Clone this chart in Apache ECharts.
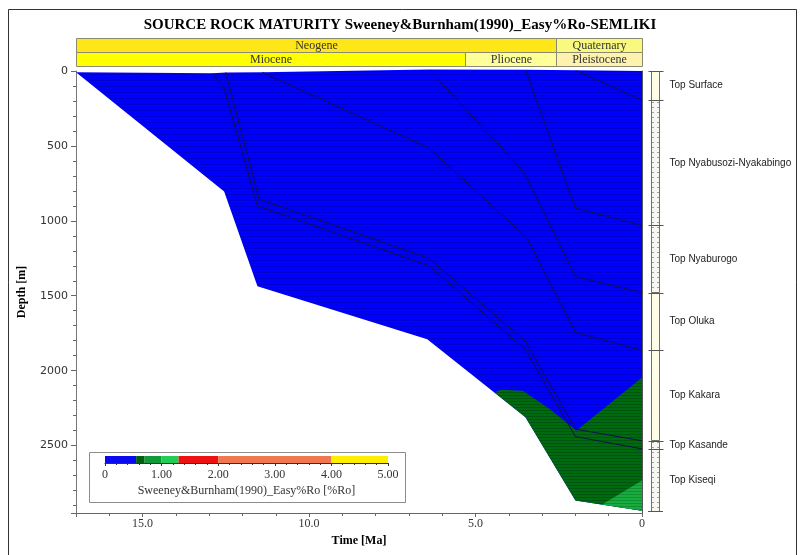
<!DOCTYPE html>
<html><head><meta charset="utf-8">
<script src="https://cdn.jsdelivr.net/npm/echarts@6/dist/echarts.min.js"></script>
<style>html,body{margin:0;padding:0;background:#fff}#c{width:800px;height:555px}</style>
</head><body><div id="c"></div>
<script>
// ---------- DATA ----------
const chartTitle = 'SOURCE ROCK MATURITY Sweeney&Burnham(1990)_Easy%Ro-SEMLIKI';
const timeRange = [0, 17];          // Ma
const depthRange = [0, 2950];       // m
// burial history: [time Ma, depth m]
const surfacePath   = [[17,9],[12.9,15],[12.5,10],[11.4,9],[6.4,-10],[3.5,-8],[2.0,-5],[0,0]];
const basePath      = [[17,9],[12.55,805],[11.55,1436],[6.45,1790],[3.5,2311],[2.0,2866],[0,2935]];
const topKiseqi     = [[12.9,15],[12.55,115],[11.55,900],[6.4,1300],[3.5,1860],[2.0,2440],[0,2522]];
const topKasande    = [[12.5,10],[11.5,855],[6.4,1250],[3.5,1805],[2.0,2390],[0,2468]];
const topKakara     = [[11.4,9],[6.4,514],[3.46,1112],[2.0,1744],[0,1865]];
const topOluka      = [[6.4,-10],[3.55,673],[2.0,1372],[0,1479]];
const topNyaburogo  = [[3.5,-8],[2.0,915],[0,1030]];
const topNyabusozi  = [[2.0,-5],[0,195]];
// maturity zones (Easy%Ro)
const zoneRo055_07 = [[4.43,2145],[4.23,2128],[3.58,2134],[2.77,2256],[1.97,2400],[0,2045],[0,2935],[2.0,2866],[3.5,2311]];
const zoneRo07_10  = [[1.2,2893],[0,2733],[0,2935]];
// chronostratigraphy
const periodNames = ['Neogene','Quaternary'];
const periodAges  = [[17,2.58],[2.58,0]];
const epochNames  = ['Miocene','Pliocene','Pleistocene'];
const epochAges   = [[17,5.33],[5.33,2.58],[2.58,0]];
// present-day formation column
const formationNames = ['Top Surface','Top Nyabusozi-Nyakabingo','Top Nyaburogo','Top Oluka','Top Kakara','Top Kasande','Top Kiseqi'];
const formationTops  = [0,195,1030,1479,1865,2468,2522];
const sectionBase    = 2935;
// legend scale
const roBreaks = [0,0.55,0.7,1.0,1.3,2.0,4.0,5.0];
const roLegendTitle = 'Sweeney&Burnham(1990)_Easy%Ro [%Ro]';

// ---------- STYLES ----------
const periodColors = ['#FFE619','#F9F97F'];
const epochColors  = ['#FFFF00','#FFFF99','#FFF2AE'];
const roColors = ['#0A0AF0','#006010','#119A3A','#22CC55','#EE1111','#F07850','#FFEE00'];
const formationShale = [false,true,true,false,false,true,true];

function hatch(base, line, w, h) {
  const c = document.createElement('canvas'); c.width = w || 4; c.height = h || 3;
  const g = c.getContext('2d'); g.fillStyle = base; g.fillRect(0,0,c.width,c.height);
  g.fillStyle = line; g.fillRect(0,c.height-1,c.width,1);
  return {image: c, repeat: 'repeat'};
}
function dashPattern() {
  const c = document.createElement('canvas'); c.width = 8; c.height = 5;
  const g = c.getContext('2d'); g.fillStyle = '#F6F6F2'; g.fillRect(0,0,8,5);
  g.fillStyle = '#A0A0A0'; g.fillRect(1,2,5,1);
  return {image: c, repeat: 'repeat'};
}
const blueFill  = hatch('#0000FF', '#0000D0');
const dgFill    = hatch('#006A10', '#005410');
const gFill     = hatch('#18AC40', '#109030');
const sandFill  = '#FFFDE6';
const shaleFill = dashPattern();

const serif = '"Liberation Serif","DejaVu Serif",serif';
const sans  = '"Liberation Sans",Arial,sans-serif';

function polygonSeries(points, fill, z) {
  return {
    type: 'custom', coordinateSystem: 'cartesian2d', xAxisIndex: 0, yAxisIndex: 0,
    data: points, silent: true, z: z, clip: false,
    renderItem: function (params, api) {
      if (params.dataIndex !== 0) return null;
      return { type: 'polygon', shape: { points: points.map(p => api.coord(p)) },
               style: { fill: fill, stroke: null } };
    }
  };
}

const blueZone = surfacePath.concat(basePath.slice().reverse());
const horizonPaths = [topKiseqi, topKasande, topKakara, topOluka, topNyaburogo, topNyabusozi];

const series = [];
series.push(polygonSeries(blueZone, blueFill, 2));
series.push(polygonSeries(zoneRo055_07, dgFill, 3));
series.push(polygonSeries(zoneRo07_10, gFill, 4));
horizonPaths.forEach(p => series.push({
  type: 'line', xAxisIndex: 0, yAxisIndex: 0, data: p, symbol: 'none', silent: true, z: 5,
  lineStyle: { color: '#10104A', width: 1 }, animation: false
}));

// chronostrat header
const headerData = [];
periodAges.forEach((a, i) => headerData.push([a[0], a[1], 0, i, 'p']));
epochAges.forEach((a, i) => headerData.push([a[0], a[1], 1, i, 'e']));
series.push({
  type: 'custom', coordinateSystem: 'cartesian2d', xAxisIndex: 1, yAxisIndex: 1, silent: true,
  data: headerData,
  renderItem: function (params, api) {
    const d = headerData[params.dataIndex];
    const p1 = api.coord([d[0], d[2]]), p2 = api.coord([d[1], d[2] + 1]);
    const isP = d[4] === 'p';
    return {
      type: 'rect',
      shape: { x: Math.round(p1[0]) + 0.5, y: Math.round(p1[1]) + 0.5, width: Math.round(p2[0] - p1[0]), height: Math.round(p2[1] - p1[1]) },
      style: { fill: isP ? periodColors[d[3]] : epochColors[d[3]], stroke: '#8a8a70', lineWidth: 1 },
      textContent: { style: { text: isP ? periodNames[d[3]] : epochNames[d[3]], font: '12px ' + serif, fill: '#333' } },
      textConfig: { position: 'inside' }
    };
  }
});

// formation column
const formationData = formationTops.map((t, i) => [t, i < formationTops.length - 1 ? formationTops[i + 1] : sectionBase, i]);
series.push({
  type: 'custom', coordinateSystem: 'cartesian2d', xAxisIndex: 2, yAxisIndex: 2, silent: true,
  data: formationData,
  renderItem: function (params, api) {
    const d = formationData[params.dataIndex];
    const p1 = api.coord([0, d[0]]), p2 = api.coord([1, d[1]]);
    const x0 = Math.round(p1[0]) + 0.5, y0 = Math.round(p1[1]) + 0.5;
    const w = Math.round(p2[0] - p1[0]), h = Math.round(p2[1] - p1[1]);
    return {
      type: 'group', children: [
        { type: 'rect', shape: { x: x0, y: y0, width: w, height: h },
          style: { fill: formationShale[d[2]] ? shaleFill : sandFill, stroke: '#707070', lineWidth: 1 } },
        { type: 'line', shape: { x1: x0 - 3, y1: y0, x2: x0 + w + 4, y2: y0 }, style: { stroke: '#555', lineWidth: 1 } },
        { type: 'text', x: x0 + w + 10, y: (p1[1] + p2[1]) / 2,
          style: { text: formationNames[d[2]], font: '10px ' + sans, fill: '#222', verticalAlign: 'middle', align: 'left' } }
      ]
    };
  }
});
series.push({
  type: 'custom', coordinateSystem: 'cartesian2d', xAxisIndex: 2, yAxisIndex: 2, silent: true,
  data: [[0, sectionBase]],
  renderItem: function (params, api) {
    const p = api.coord([0, sectionBase]), q = api.coord([1, sectionBase]);
    const y = Math.round(p[1]) + 0.5;
    return { type: 'line', shape: { x1: p[0] - 3, y1: y, x2: q[0] + 4, y2: y }, style: { stroke: '#555', lineWidth: 1 } };
  }
});

// legend colour bar
const legendData = roColors.map((c, i) => [roBreaks[i], roBreaks[i + 1], i]);
series.push({
  type: 'custom', coordinateSystem: 'cartesian2d', xAxisIndex: 3, yAxisIndex: 3, silent: true, z: 10,
  data: legendData,
  renderItem: function (params, api) {
    const d = legendData[params.dataIndex];
    const p1 = api.coord([d[0], 1]), p2 = api.coord([d[1], 0]);
    return { type: 'rect', shape: { x: p1[0], y: p1[1], width: p2[0] - p1[0], height: p2[1] - p1[1] },
             style: { fill: roColors[d[2]] } };
  }
});

const option = {
  animation: false,
  backgroundColor: '#fff',
  title: { text: chartTitle, left: 'center', top: 13,
           textStyle: { fontFamily: serif, fontWeight: 'bold', fontSize: 15, color: '#000' } },
  graphic: [
    { type: 'rect', z: -10, silent: true, shape: { x: 8.5, y: 9.5, width: 788, height: 560 }, style: { fill: null, stroke: '#333', lineWidth: 1 } },
    { type: 'rect', z: -5, silent: true, shape: { x: 89.5, y: 452.5, width: 316, height: 50 }, style: { fill: '#fff', stroke: '#8c8c8c', lineWidth: 1 } }
  ],
  grid: [
    { left: 76, top: 71, width: 566, height: 442 },
    { left: 76, top: 38, width: 566, height: 28 },
    { left: 651, top: 71, width: 8, height: 442 },
    { left: 105, top: 456, width: 283, height: 7, z: 10 }
  ],
  xAxis: [
    { gridIndex: 0, type: 'value', min: timeRange[0], max: timeRange[1], inverse: true, interval: 5,
      name: 'Time [Ma]', nameLocation: 'middle', nameGap: 22,
      nameTextStyle: { fontFamily: serif, fontWeight: 'bold', fontSize: 12, color: '#000' },
      axisLine: { onZero: false, lineStyle: { color: '#666' } },
      axisTick: { show: true, length: 4, lineStyle: { color: '#666' } },
      minorTick: { show: true, splitNumber: 5, length: 3, lineStyle: { color: '#666' } },
      splitLine: { show: false },
      axisLabel: { fontFamily: serif, fontSize: 12, color: '#333', margin: 5, showMaxLabel: false,
                   formatter: v => v === 0 ? '0' : v.toFixed(1) } },
    { gridIndex: 1, type: 'value', min: timeRange[0], max: timeRange[1], inverse: true, show: false },
    { gridIndex: 2, type: 'value', min: 0, max: 1, show: false },
    { gridIndex: 3, type: 'value', min: 0, max: 5, interval: 1,
      name: roLegendTitle, nameLocation: 'middle', nameGap: 22,
      nameTextStyle: { fontFamily: serif, fontSize: 12, color: '#333' },
      axisLine: { onZero: false, lineStyle: { color: '#333' } },
      axisTick: { length: 3, lineStyle: { color: '#333' } },
      minorTick: { show: true, splitNumber: 5, length: 2, lineStyle: { color: '#333' } },
      splitLine: { show: false },
      axisLabel: { fontFamily: serif, fontSize: 12, color: '#333', margin: 6,
                   formatter: v => v === 0 ? '0' : v.toFixed(2) } }
  ],
  yAxis: [
    { gridIndex: 0, type: 'value', min: depthRange[0], max: depthRange[1], inverse: true, interval: 500,
      name: 'Depth [m]', nameLocation: 'middle', nameGap: 48, nameRotate: 90,
      nameTextStyle: { fontFamily: serif, fontWeight: 'bold', fontSize: 12, color: '#000' },
      axisLine: { onZero: false, lineStyle: { color: '#777' } },
      axisTick: { length: 5, lineStyle: { color: '#666' } },
      minorTick: { show: true, splitNumber: 5, length: 3, lineStyle: { color: '#666' } },
      splitLine: { show: false },
      axisLabel: { fontFamily: '"DejaVu Sans",sans-serif', fontSize: 11, color: '#333', margin: 8, showMaxLabel: false,
                   formatter: v => String(v) } },
    { gridIndex: 1, type: 'value', min: 0, max: 2, inverse: true, show: false },
    { gridIndex: 2, type: 'value', min: depthRange[0], max: depthRange[1], inverse: true, show: false },
    { gridIndex: 3, type: 'value', min: 0, max: 1, show: false },
    { gridIndex: 0, type: 'value', min: depthRange[0], max: depthRange[1], inverse: true, position: 'right',
      axisLine: { show: true, onZero: false, lineStyle: { color: '#555' } }, axisTick: { show: false }, axisLabel: { show: false }, splitLine: { show: false } }
  ],
  series: series
};
echarts.init(document.getElementById('c')).setOption(option);
</script></body></html>
